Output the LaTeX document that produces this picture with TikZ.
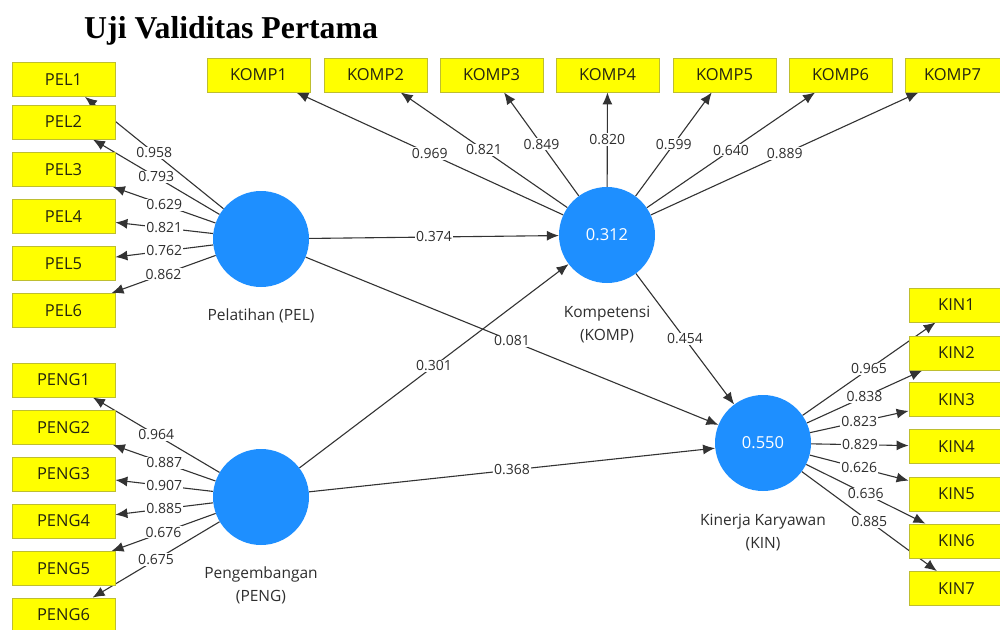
\documentclass[tikz,border=0pt]{standalone}
\usepackage{fontspec}
\setmainfont{Open Sans}
\newfontfamily\titlefont{Liberation Serif}
\usetikzlibrary{arrows.meta,backgrounds}
\definecolor{boxfill}{HTML}{FFFF00}
\definecolor{boxdraw}{HTML}{BEBE30}
\definecolor{lvblue}{HTML}{1E8FFF}
\definecolor{txt}{HTML}{2E2E2E}
\definecolor{boxtxt}{HTML}{252510}
\definecolor{ln}{HTML}{333333}
\pgfdeclarelayer{bgzero}
\pgfsetlayers{bgzero,background,main}
\begin{document}
\begin{tikzpicture}[x=1pt,y=-1pt,
  ind/.style={draw=boxdraw,line width=0.8pt,fill=boxfill,minimum width=103pt,minimum height=34pt,inner sep=0pt,text=boxtxt,font=\fontsize{16.5}{18}\selectfont},
  lvar/.style={circle,fill=lvblue,minimum size=96pt,inner sep=0pt,text=white,font=\fontsize{16.5}{18}\selectfont},
  lvlab/.style={text=txt,font=\fontsize{15.5}{23}\selectfont,align=center,anchor=north},
  arr/.style={draw=ln,line width=1.1pt,-{Latex[length=12pt,width=10pt]}},
  val/.style={fill=white,inner sep=1pt,text=txt,font=\fontsize{14}{16}\selectfont}]
\useasboundingbox (0,0) rectangle (1000,629);
\begin{pgfonlayer}{bgzero}
\fill[white] (0,0) rectangle (1000,629);
\end{pgfonlayer}
\clip (0,0) rectangle (1000,629);

\node[anchor=base west,inner sep=0pt,font=\titlefont\bfseries\fontsize{31.8}{34}\selectfont] (title) at (84,38) {Uji Validitas Pertama};

% latent variables
\node[lvar] (PEL) at (261,239) {};
\node[lvar] (PENG) at (261,497) {};
\node[lvar] (KOMP) at (607,235) {0.312};
\node[lvar] (KIN) at (763,443) {0.550};
\node[lvlab] (PELl) at (261,305) {Pelatihan (PEL)};
\node[lvlab] (PENGl) at (261,563) {Pengembangan\\(PENG)};
\node[lvlab] (KOMPl) at (607,303) {Kompetensi\\(KOMP)};
\node[lvlab] (KINl) at (763,511) {Kinerja Karyawan\\(KIN)};

% indicators
\node[ind] (PEL1) at (63.5,79.5) {PEL1};
\node[ind] (PEL2) at (63.5,122) {PEL2};
\node[ind] (PEL3) at (63.5,169.5) {PEL3};
\node[ind] (PEL4) at (63.5,216.5) {PEL4};
\node[ind] (PEL5) at (63.5,263.5) {PEL5};
\node[ind] (PEL6) at (63.5,310.5) {PEL6};

\node[ind] (PENG1) at (63.5,380) {PENG1};
\node[ind] (PENG2) at (63.5,427.5) {PENG2};
\node[ind] (PENG3) at (63.5,474) {PENG3};
\node[ind] (PENG4) at (63.5,521) {PENG4};
\node[ind] (PENG5) at (63.5,568.5) {PENG5};
\node[ind] (PENG6) at (63.5,615) {PENG6};

\node[ind] (KOMP1) at (258.5,75) {KOMP1};
\node[ind] (KOMP2) at (375.5,75) {KOMP2};
\node[ind] (KOMP3) at (491.5,75) {KOMP3};
\node[ind] (KOMP4) at (607.5,75) {KOMP4};
\node[ind] (KOMP5) at (724.5,75) {KOMP5};
\node[ind] (KOMP6) at (840.5,75) {KOMP6};
\node[ind] (KOMP7) at (956.5,75) {\hspace*{-8pt}KOMP7};

\node[ind] (KIN1) at (960.5,305) {\hspace*{-8pt}KIN1};
\node[ind] (KIN2) at (960.5,353) {\hspace*{-8pt}KIN2};
\node[ind] (KIN3) at (960.5,399.5) {\hspace*{-8pt}KIN3};
\node[ind] (KIN4) at (960.5,446.5) {\hspace*{-8pt}KIN4};
\node[ind] (KIN5) at (960.5,494) {\hspace*{-8pt}KIN5};
\node[ind] (KIN6) at (960.5,541) {\hspace*{-8pt}KIN6};
\node[ind] (KIN7) at (960.5,588.5) {\hspace*{-8pt}KIN7};

\begin{pgfonlayer}{background}
% outer loadings PEL
\draw[arr] (PEL) -- (PEL1) node[val,midway]{0.958};
\draw[arr] (PEL) -- (PEL2) node[val,midway]{0.793};
\draw[arr] (PEL) -- (PEL3) node[val,midway]{0.629};
\draw[arr] (PEL) -- (PEL4) node[val,midway]{0.821};
\draw[arr] (PEL) -- (PEL5) node[val,midway]{0.762};
\draw[arr] (PEL) -- (PEL6) node[val,midway]{0.862};
% PENG
\draw[arr] (PENG) -- (PENG1) node[val,midway]{0.964};
\draw[arr] (PENG) -- (PENG2) node[val,midway]{0.887};
\draw[arr] (PENG) -- (PENG3) node[val,midway]{0.907};
\draw[arr] (PENG) -- (PENG4) node[val,midway]{0.885};
\draw[arr] (PENG) -- (PENG5) node[val,midway]{0.676};
\draw[arr] (PENG) -- (PENG6) node[val,midway]{0.675};
% KOMP
\draw[arr] (KOMP) -- (KOMP1) node[val,midway]{0.969};
\draw[arr] (KOMP) -- (KOMP2) node[val,midway]{0.821};
\draw[arr] (KOMP) -- (KOMP3) node[val,midway]{0.849};
\draw[arr] (KOMP) -- (KOMP4) node[val,midway]{0.820};
\draw[arr] (KOMP) -- (KOMP5) node[val,midway]{0.599};
\draw[arr] (KOMP) -- (KOMP6) node[val,midway]{0.640};
\draw[arr] (KOMP) -- (KOMP7) node[val,midway]{0.889};
% KIN
\draw[arr] (KIN) -- (KIN1) node[val,midway]{0.965};
\draw[arr] (KIN) -- (KIN2) node[val,midway]{0.838};
\draw[arr] (KIN) -- (KIN3) node[val,midway]{0.823};
\draw[arr] (KIN) -- (KIN4) node[val,midway]{0.829};
\draw[arr] (KIN) -- (KIN5) node[val,midway]{0.626};
\draw[arr] (KIN) -- (KIN6) node[val,midway]{0.636};
\draw[arr] (KIN) -- (KIN7) node[val,midway]{0.885};
% structural paths
\draw[arr] (PEL) -- (KOMP) node[val,midway]{0.374};
\draw[arr] (PEL) -- (KIN) node[val,midway]{0.081};
\draw[arr] (PENG) -- (KOMP) node[val,midway]{0.301};
\draw[arr] (PENG) -- (KIN) node[val,midway]{0.368};
\draw[arr] (KOMP) -- (KIN) node[val,midway]{0.454};
\end{pgfonlayer}
\end{tikzpicture}
\end{document}
